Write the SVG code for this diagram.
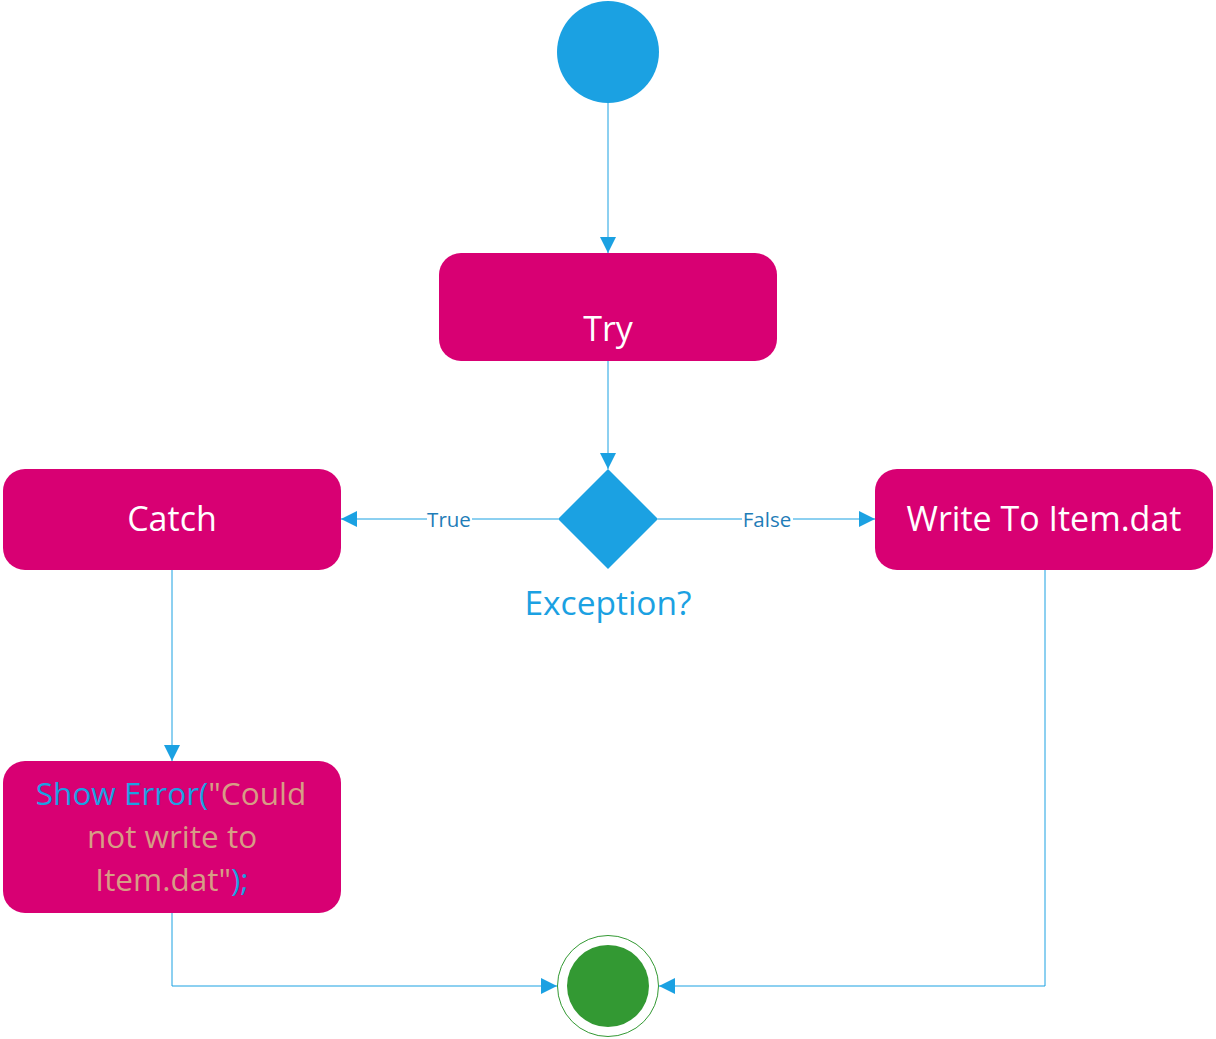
<svg xmlns="http://www.w3.org/2000/svg" width="1216" height="1039" viewBox="0 0 1216 1039">
<style>
.box{fill:#D80073}
.t{font-family:"Open Sans","Noto Sans",sans-serif;font-size:34px;fill:#FFFFFF;text-anchor:middle}
.t2{font-family:"Open Sans","Noto Sans",sans-serif;font-size:31.5px;text-anchor:middle}
.c{fill:none;stroke:#1BA1E2;stroke-width:1}
.lbl{font-family:"Open Sans","Noto Sans",sans-serif;font-size:20.5px;fill:#1F7DB8;text-anchor:middle;dominant-baseline:central}
.blue{fill:#1BA1E2}
.tan{fill:#D69D85}
</style>
<defs>
<marker id="ah" viewBox="0 0 16 16" refX="16" refY="8" markerWidth="16" markerHeight="16" markerUnits="userSpaceOnUse" orient="auto">
<path d="M0,0 L16,8 L0,16 Z" fill="#1BA1E2"/>
</marker>
</defs>
<rect width="1216" height="1039" fill="#FFFFFF"/>
<g id="connectors">
<path class="c" d="M608,103 V253" marker-end="url(#ah)"/>
<path class="c" d="M608,361 V469" marker-end="url(#ah)"/>
<path class="c" d="M558,519 H341" marker-end="url(#ah)"/>
<path class="c" d="M658,519 H875" marker-end="url(#ah)"/>
<path class="c" d="M172,570 V761" marker-end="url(#ah)"/>
<path class="c" d="M172,913 V986 H557" marker-end="url(#ah)"/>
<path class="c" d="M1045,570 V986 H659" marker-end="url(#ah)"/>
<rect x="427" y="508" width="45" height="22" fill="#FFFFFF"/>
<text class="lbl" x="449" y="519">True</text>
<rect x="742" y="508" width="51" height="22" fill="#FFFFFF"/>
<text class="lbl" x="767" y="519">False</text>
</g>
<g id="start">
<circle cx="608" cy="52" r="51" fill="#1BA1E2"/>
</g>
<g id="try">
<rect class="box" x="439" y="253" width="338" height="108" rx="22"/>
<text class="t" x="608" y="341">Try</text>
</g>
<g id="decision">
<path d="M608,469 L658,519 L608,569 L558,519 Z" fill="#1BA1E2"/>
<text x="608" y="615" font-family="Open Sans, Noto Sans, sans-serif" font-size="33.5" fill="#1BA1E2" text-anchor="middle">Exception?</text>
</g>
<g id="catch">
<rect class="box" x="3" y="469" width="338" height="101" rx="22"/>
<text class="t" x="172" y="531">Catch</text>
</g>
<g id="write">
<rect class="box" x="875" y="469" width="338" height="101" rx="22"/>
<text class="t" x="1044" y="531">Write To Item.dat</text>
</g>
<g id="showerror">
<rect class="box" x="3" y="761" width="338" height="152" rx="22"/>
<text class="t2" x="171" y="805"><tspan class="blue">Show Error(</tspan><tspan class="tan">"Could</tspan></text>
<text class="t2" x="172" y="848"><tspan class="tan">not write to</tspan></text>
<text class="t2" x="172" y="891"><tspan class="tan">Item.dat"</tspan><tspan class="blue">);</tspan></text>
</g>
<g id="end">
<circle cx="608" cy="986" r="50.5" fill="none" stroke="#339933" stroke-width="1"/>
<circle cx="608" cy="986" r="41" fill="#339933"/>
</g>
</svg>
